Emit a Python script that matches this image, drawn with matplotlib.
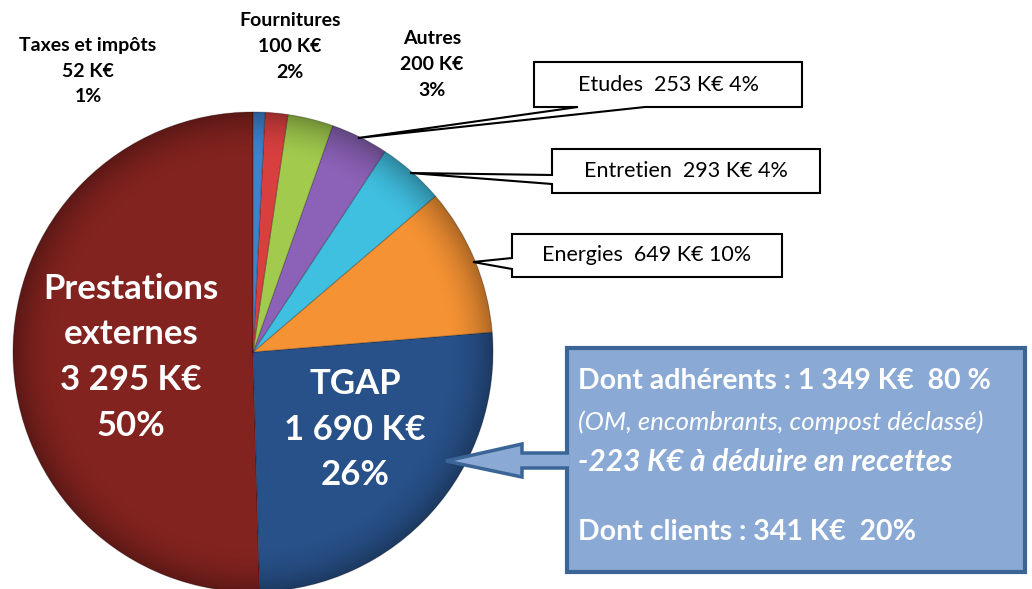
import numpy as np
import matplotlib.pyplot as plt
from matplotlib.patches import Polygon, Rectangle, Circle

plt.rcParams['font.family'] = ['Lato', 'DejaVu Sans']

# données (K€)
postes = ["Prestations\nexternes", "TGAP", "Energies", "Entretien", "Etudes",
          "Autres", "Fournitures", "Taxes et impôts"]
montants = [3295, 1690, 649, 293, 253, 200, 100, 52]
couleurs = ["#83231F", "#285189", "#F59233", "#40C0E1", "#8B62B7",
            "#A2CB4E", "#D8403F", "#3B82CF"]

# détail TGAP
adherents, part_adherents = 1349, 80
clients, part_clients = 341, 20
a_deduire = -223


def keur(v):
    return f"{v:,}".replace(",", " ") + " K€"


total = sum(montants)
pcts = [round(100 * m / total) for m in montants]

fig = plt.figure(figsize=(10.32, 5.89), dpi=100)
ax = fig.add_axes([0, 0, 1, 1])

cx, cy, r = 253, 352, 240
wedges, _ = ax.pie(montants, colors=couleurs, startangle=270, counterclock=False,
                   center=(cx, cy), radius=r, frame=True,
                   wedgeprops=dict(edgecolor="#00000040", linewidth=0.8))
ax.set_xlim(0, 1032)
ax.set_ylim(589, 0)  # coordonnées en pixels, y vers le bas
ax.set_aspect("equal")
ax.axis("off")

# effet de relief : assombrir le bord du camembert
yy, xx = np.mgrid[0:589, 0:1032]
d = np.hypot(xx - cx, yy - cy) / r
alpha = np.clip((d - 0.80) / 0.20, 0, 1) ** 2 * 0.30
ombre = np.zeros((589, 1032, 4))
ombre[..., 3] = alpha
im = ax.imshow(ombre, extent=(0, 1032, 589, 0), zorder=3)
im.set_clip_path(Circle((cx, cy), r, transform=ax.transData))

# étiquettes intérieures
gros = dict(color="white", fontsize=25, fontweight="bold", ha="center", va="center", zorder=5)
for i, ligne in enumerate(postes[0].split("\n") + [keur(montants[0]), f"{pcts[0]}%"]):
    ax.text(131, 289 + 45.5 * i, ligne, **gros)
for i, ligne in enumerate([postes[1], keur(montants[1]), f"{pcts[1]}%"]):
    ax.text(355, 384 + 45.5 * i, ligne, **gros)

# petites étiquettes au-dessus
petit = dict(color="black", fontsize=14, fontweight="bold", ha="center", va="center")
for idx, (x, y) in zip([7, 6, 5], [(88, 46), (290, 21), (432, 39)]):
    for i, ligne in enumerate([postes[idx], keur(montants[idx]), f"{pcts[idx]}%"]):
        ax.text(x, y + 25.5 * i, ligne, **petit)

# bulles de légende
bulles = [
    (4, [(534, 62), (802, 62), (802, 107), (645, 107), (358, 138), (578, 107), (534, 107)], (668, 85)),
    (3, [(552, 149), (820, 149), (820, 193), (552, 193), (552, 184), (410, 173), (552, 175)], (686, 171)),
    (2, [(512, 234), (782, 234), (782, 277), (512, 277), (512, 269), (473, 262), (512, 258)], (647, 255)),
]
for idx, pts, (tx, ty) in bulles:
    ax.add_patch(Polygon(pts, closed=True, facecolor="white", edgecolor="black",
                         linewidth=1.5, zorder=6))
    ax.text(tx, ty, f"{postes[idx]}  {keur(montants[idx])} {pcts[idx]}%",
            fontsize=15.5, ha="center", va="center", zorder=7)

# encadré TGAP + flèche
bleu, bord = "#8AA9D4", "#3B6497"
ax.add_patch(Rectangle((567, 348), 458, 224, facecolor=bleu, edgecolor=bord,
                       linewidth=3, zorder=6))
fleche = [(569, 453), (522, 453), (522, 444), (446, 461), (522, 477), (522, 468), (569, 468)]
ax.add_patch(Polygon(fleche, closed=False, facecolor=bleu, edgecolor=bord,
                     linewidth=2.5, zorder=7, joinstyle="miter"))

ax.text(578, 381, f"Dont adhérents : {keur(adherents)}  {part_adherents} %",
        color="white", fontsize=20.5, fontweight="bold", va="center", zorder=8)
ax.text(578, 422, "(OM, encombrants, compost déclassé)",
        color="white", fontsize=18.5, style="italic", va="center", zorder=8)
ax.text(578, 462, f"{a_deduire} K€ à déduire en recettes",
        color="white", fontsize=21.5, fontweight="bold", style="italic", va="center", zorder=8)
ax.text(578, 532, f"Dont clients : {keur(clients)}  {part_clients}%",
        color="white", fontsize=20.5, fontweight="bold", va="center", zorder=8)

fig.savefig("out.png", dpi=100)
